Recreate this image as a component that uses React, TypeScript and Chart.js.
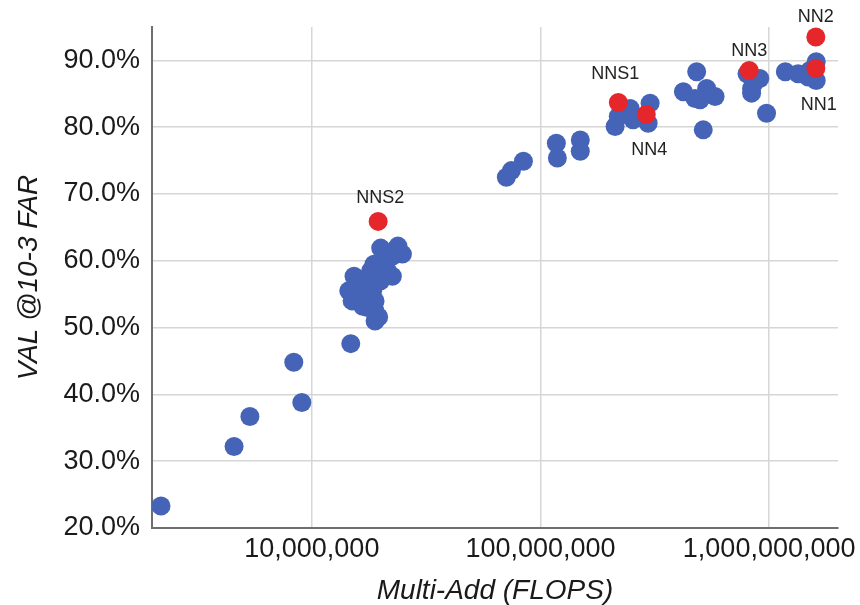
import React, { useEffect, useRef } from "react";
import { Chart, registerables } from "chart.js";

Chart.register(...registerables);

// Blue points: Multi-Add FLOPS vs VAL @10-3 FAR (%)
const blueFlops: number[] = [
  2.19e6, 4.57e6, 5.36e6, 8.34e6, 9.04e6, 14.8e6,
  20.0e6, 23.8e6, 24.9e6, 18.7e6, 21.4e6, 22.5e6, 15.3e6, 14.5e6, 15.0e6, 16.9e6,
  18.1e6, 18.9e6, 18.9e6, 17.5e6, 17.21e6, 18.46e6, 20.0e6, 21.0e6, 16.04e6, 16.7e6,
  18.9e6, 18.09e6, 22.56e6, 15.56e6, 19.6e6, 23.2e6,
  70.9e6, 74.6e6, 84.2e6, 117.3e6, 118.5e6, 149.3e6, 149.3e6,
  218.8e6, 212e6, 246.6e6, 301.5e6, 295.6e6, 254e6,
  482e6, 421.5e6, 474e6, 533e6, 580e6, 499e6, 515e6,
  910e6, 838e6, 838e6, 974e6, 867e6, 800e6,
  1.177e9, 1.338e9, 1.507e9, 1.606e9, 1.606e9, 1.481e9,
];
const blueVal: number[] = [
  23.3, 32.2, 36.7, 44.8, 38.8, 47.6,
  61.9, 62.2, 61.0, 59.5, 58.5, 57.7, 57.7, 55.5, 54.0, 56.0,
  54.5, 52.5, 51.0, 53.0, 56.7, 55.5, 57.0, 59.7, 54.6, 53.2,
  54.0, 58.5, 60.7, 56.2, 51.6, 61.7,
  72.5, 73.5, 74.9, 77.6, 75.4, 78.1, 76.4,
  81.6, 80.1, 82.8, 83.6, 80.6, 81.1,
  88.3, 85.3, 84.3, 85.8, 84.6, 84.1, 79.6,
  87.3, 85.8, 85.1, 82.1, 86.8, 88.0,
  88.3, 88.0, 88.5, 89.8, 87.0, 87.5,
];

// Highlighted (red) models
const redNames: string[] = ["NN2", "NN1", "NN3", "NNS1", "NN4", "NNS2"];
const redFlops: number[] = [1.6e9, 1.6e9, 8.18e8, 2.19e8, 2.9e8, 1.95e7];
const redVal: number[] = [93.5, 88.8, 88.5, 83.7, 81.9, 65.9];

const xTickValues: number[] = [1e7, 1e8, 1e9];
const yTickValues: number[] = [20, 30, 40, 50, 60, 70, 80, 90];

const FONT = "'Liberation Sans', Arial, Helvetica, sans-serif";

const labelOffsets: Record<string, [number, number]> = {
  NN2: [0, -20],
  NN1: [3, 37],
  NN3: [0, -19],
  NNS1: [-3, -28],
  NN4: [3, 36],
  NNS2: [2, -23],
};

const labelPlugin = {
  id: "pointLabels",
  afterDatasetsDraw(chart: any) {
    const meta = chart.getDatasetMeta(0);
    const ctx = chart.ctx;
    ctx.save();
    ctx.font = `18px ${FONT}`;
    ctx.fillStyle = "#222";
    ctx.textAlign = "center";
    ctx.textBaseline = "middle";
    meta.data.forEach((el: any, i: number) => {
      const name = redNames[i];
      const off = labelOffsets[name] || [0, -20];
      ctx.fillText(name, el.x + off[0], el.y + off[1]);
    });
    ctx.restore();
  },
};

export default function App() {
  const ref = useRef<HTMLCanvasElement | null>(null);

  useEffect(() => {
    document.body.style.margin = "0";
    const canvas = ref.current;
    if (!canvas) return;
    const chart = new Chart(canvas, {
      type: "scatter",
      data: {
        datasets: [
          {
            label: "highlight",
            data: redFlops.map((x, i) => ({ x, y: redVal[i] })),
            backgroundColor: "#E5262B",
            borderColor: "#E5262B",
            borderWidth: 0,
            pointRadius: 9.5,
            order: 0,
          },
          {
            label: "models",
            data: blueFlops.map((x, i) => ({ x, y: blueVal[i] })),
            backgroundColor: "#4564B8",
            borderColor: "#4564B8",
            borderWidth: 0,
            pointRadius: 9.5,
            order: 1,
          },
        ],
      },
      options: {
        responsive: false,
        animation: false,
        layout: { padding: { top: 27, right: 22, left: 0, bottom: 0 } },
        plugins: {
          legend: { display: false },
          tooltip: { enabled: false },
        },
        scales: {
          x: {
            type: "logarithmic",
            min: 2e6,
            max: 2e9,
            afterBuildTicks: (s: any) => {
              s.ticks = xTickValues.map((v) => ({ value: v }));
            },
            afterFit: (s: any) => {
              s.height = 77;
              s.paddingLeft = 0;
              s.paddingRight = 0;
            },
            grid: { color: "#d6d6d6", lineWidth: 1.5, drawTicks: false },
            border: { color: "#6e6e6e", width: 2 },
            ticks: {
              padding: 5,
              color: "#1a1a1a",
              font: { family: FONT, size: 27 },
              maxRotation: 0,
              autoSkip: false,
              callback: (v: any) => Number(v).toLocaleString("en-US"),
            },
            title: {
              display: true,
              text: "Multi-Add (FLOPS)",
              color: "#1a1a1a",
              font: { family: FONT, size: 28, style: "italic", lineHeight: 1 },
              padding: { top: 0, bottom: 0 },
            },
          },
          y: {
            type: "linear",
            min: 20,
            max: 95,
            afterBuildTicks: (s: any) => {
              s.ticks = yTickValues.map((v) => ({ value: v }));
            },
            afterFit: (s: any) => {
              s.width = 152;
              s.paddingTop = 0;
              s.paddingBottom = 0;
            },
            grid: { color: "#d6d6d6", lineWidth: 1.5, drawTicks: false },
            border: { color: "#6e6e6e", width: 2 },
            ticks: {
              padding: 12,
              color: "#1a1a1a",
              font: { family: FONT, size: 27 },
              callback: (v: any) => Number(v).toFixed(1) + "%",
            },
            title: {
              display: true,
              text: "VAL @10-3 FAR",
              color: "#1a1a1a",
              font: { family: FONT, size: 28, style: "italic", lineHeight: 1 },
              padding: { top: 15, bottom: 0 },
            },
          },
        },
      },
      plugins: [labelPlugin],
    });
    return () => chart.destroy();
  }, []);

  return (
    <div style={{ position: "fixed", left: 0, top: 0, width: 860, height: 605, background: "#fff" }}>
      <canvas ref={ref} width={860} height={605} style={{ width: 860, height: 605 }} />
    </div>
  );
}
